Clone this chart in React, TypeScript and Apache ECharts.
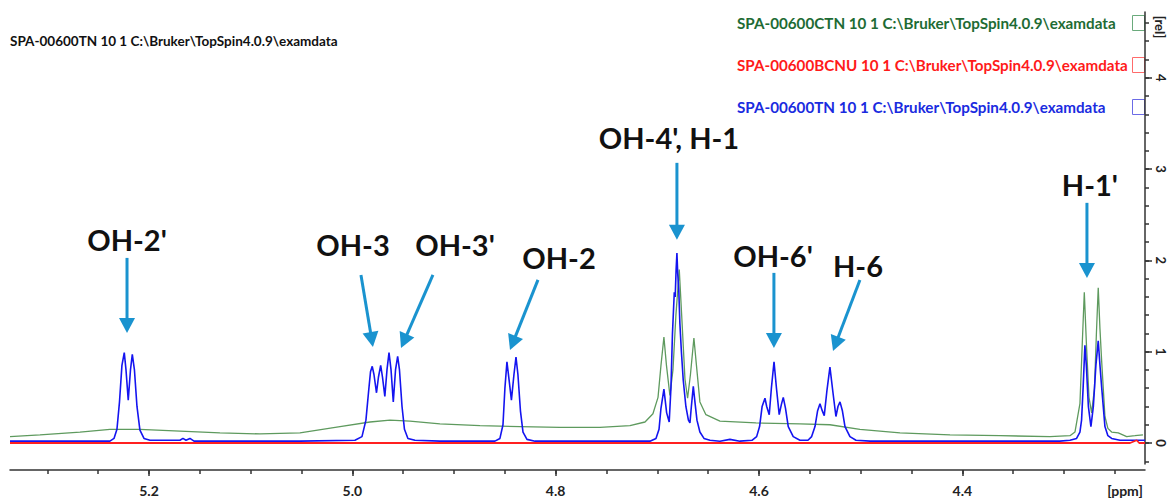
import React, { useEffect, useRef } from "react";
import * as echarts from "echarts";

// ---- data (ppm, relative intensity) ----
const blueTN: [number, number][] = [
  [5.3367, 0.02], [5.2384, 0.02], [5.2344, 0.05], [5.2315, 0.15], [5.229, 0.45], [5.2266, 0.85],
  [5.2243, 0.99], [5.2226, 0.8], [5.2204, 0.47], [5.2182, 0.8], [5.2164, 0.97], [5.2143, 0.8],
  [5.2118, 0.4], [5.2089, 0.14], [5.2049, 0.05], [5.199, 0.03], [5.1695, 0.03], [5.1666, 0.05],
  [5.1636, 0.03], [5.1597, 0.05], [5.1557, 0.02], [5.0515, 0.02], [4.9974, 0.03], [4.9905, 0.07],
  [4.9866, 0.25], [4.9841, 0.55], [4.9821, 0.78], [4.9804, 0.84], [4.9787, 0.75], [4.9762, 0.55],
  [4.9743, 0.72], [4.9721, 0.85], [4.9703, 0.72], [4.968, 0.51], [4.9659, 0.8], [4.9639, 0.99],
  [4.9619, 0.8], [4.9597, 0.45], [4.9575, 0.8], [4.9554, 0.95], [4.9536, 0.8], [4.9511, 0.4],
  [4.9487, 0.15], [4.9453, 0.05], [4.9384, 0.03], [4.9138, 0.02], [4.8597, 0.02], [4.8548, 0.05],
  [4.8518, 0.2], [4.8499, 0.6], [4.8479, 0.89], [4.8459, 0.7], [4.8435, 0.47], [4.841, 0.75],
  [4.839, 0.94], [4.8371, 0.75], [4.8346, 0.35], [4.8321, 0.12], [4.8282, 0.04], [4.8203, 0.02],
  [4.7072, 0.02], [4.7013, 0.05], [4.6983, 0.15], [4.6964, 0.38], [4.6935, 0.59], [4.6908, 0.33],
  [4.6883, 0.23], [4.6866, 0.6], [4.6851, 1.2], [4.6833, 1.65], [4.6824, 1.6], [4.6815, 1.9],
  [4.6807, 2.08], [4.6799, 1.85], [4.6789, 1.68], [4.6778, 1.31], [4.6763, 1.0], [4.6745, 0.69],
  [4.6719, 0.4], [4.6694, 0.25], [4.6679, 0.22], [4.6665, 0.4], [4.6646, 0.62], [4.663, 0.45],
  [4.661, 0.25], [4.6581, 0.12], [4.6541, 0.05], [4.6482, 0.03], [4.6384, 0.02], [4.6286, 0.04],
  [4.6187, 0.02], [4.6069, 0.03], [4.6023, 0.07], [4.5994, 0.18], [4.5969, 0.4], [4.5941, 0.49],
  [4.5924, 0.4], [4.5899, 0.31], [4.5878, 0.6], [4.5852, 0.89], [4.5828, 0.6], [4.5801, 0.31],
  [4.578, 0.42], [4.5761, 0.5], [4.5739, 0.38], [4.5712, 0.18], [4.5663, 0.07], [4.5597, 0.03],
  [4.5518, 0.03], [4.5482, 0.07], [4.5449, 0.18], [4.5424, 0.35], [4.54, 0.43], [4.538, 0.36],
  [4.5358, 0.3], [4.5331, 0.58], [4.5302, 0.83], [4.5272, 0.55], [4.5243, 0.29], [4.5223, 0.4],
  [4.5203, 0.45], [4.5179, 0.35], [4.5154, 0.18], [4.5105, 0.07], [4.5046, 0.03], [4.4908, 0.02],
  [4.304, 0.02], [4.2941, 0.03], [4.2876, 0.05], [4.2843, 0.12], [4.2827, 0.25], [4.2811, 0.62],
  [4.2794, 1.07], [4.278, 0.85], [4.276, 0.4], [4.2735, 0.18], [4.2711, 0.4], [4.2686, 0.85],
  [4.2663, 1.12], [4.2646, 0.85], [4.263, 0.62], [4.2597, 0.18], [4.2568, 0.08], [4.2531, 0.05],
  [4.2449, 0.03], [4.2203, 0.03],
];

const greenCTN: [number, number][] = [
  [5.3367, 0.07], [5.3072, 0.09], [5.2679, 0.12], [5.2384, 0.15], [5.2089, 0.15], [5.1695, 0.13],
  [5.1302, 0.11], [5.0908, 0.1], [5.0515, 0.11], [5.0121, 0.18], [4.9826, 0.23], [4.963, 0.25],
  [4.9433, 0.24], [4.9138, 0.21], [4.8744, 0.19], [4.8351, 0.18], [4.7957, 0.17], [4.7564, 0.17],
  [4.7269, 0.19], [4.7121, 0.23], [4.7043, 0.32], [4.6993, 0.5], [4.6964, 0.85], [4.6935, 1.16],
  [4.691, 0.85], [4.6876, 0.52], [4.6846, 0.8], [4.6817, 1.4], [4.6784, 1.9], [4.6758, 1.35],
  [4.6728, 0.7], [4.6702, 0.49], [4.6674, 0.75], [4.664, 1.15], [4.6615, 0.85], [4.6581, 0.45],
  [4.6522, 0.31], [4.6384, 0.24], [4.603, 0.22], [4.5597, 0.21], [4.5302, 0.2], [4.5007, 0.15],
  [4.4613, 0.11], [4.4121, 0.09], [4.363, 0.08], [4.3138, 0.07], [4.2941, 0.08], [4.2892, 0.12],
  [4.2843, 0.43], [4.282, 1.09], [4.28, 1.65], [4.2778, 1.05], [4.2754, 0.5], [4.2728, 0.33],
  [4.27, 0.6], [4.2681, 1.2], [4.2663, 1.7], [4.2646, 1.25], [4.263, 0.91], [4.2597, 0.29],
  [4.2568, 0.16], [4.2531, 0.12], [4.2466, 0.11], [4.2383, 0.07], [4.2302, 0.08], [4.2223, 0.09],
];

const redBCNU: [number, number][] = [
  [5.3367, 0.0], [4.235, 0.0], [4.2285, 0.03], [4.226, 0.0], [4.2203, 0.0],
];

const xMajorTicks = [5.2, 5.0, 4.8, 4.6, 4.4];
const xMinorTicks = [5.3, 5.25, 5.2, 5.15, 5.1, 5.05, 5.0, 4.95, 4.9, 4.85, 4.8, 4.75, 4.7, 4.65, 4.6,
  4.55, 4.5, 4.45, 4.4, 4.35, 4.3, 4.25];
const yMajorTicks = [0, 1, 2, 3, 4];
const yMinorTicks = [-0.2, 0, 0.2, 0.4, 0.6, 0.8, 1, 1.2, 1.4, 1.6, 1.8, 2, 2.2, 2.4, 2.6, 2.8, 3, 3.2,
  3.4, 3.6, 3.8, 4, 4.2, 4.4, 4.6];

const seriesNames = [
  "SPA-00600CTN 10 1 C:\\Bruker\\TopSpin4.0.9\\examdata",
  "SPA-00600BCNU 10 1 C:\\Bruker\\TopSpin4.0.9\\examdata",
  "SPA-00600TN 10 1 C:\\Bruker\\TopSpin4.0.9\\examdata",
];
const titleText = "SPA-00600TN 10 1 C:\\Bruker\\TopSpin4.0.9\\examdata";

// annotations: label position and arrow (from -> tip), in data units
const annotLabels = ["OH-2'", "OH-3", "OH-3'", "OH-2", "OH-4', H-1", "OH-6'", "H-6", "H-1'"];
const annotLabelPos: [number, number][] = [
  [5.2216, 2.225], [4.9993, 2.17], [4.899, 2.17], [4.7967, 2.027], [4.6885, 3.342], [4.5862, 2.049],
  [4.5026, 1.94], [4.2745, 2.827],
];
const annotFrom: [number, number][] = [
  [5.2216, 2.027], [4.9915, 1.841], [4.9207, 1.841], [4.8174, 1.786], [4.6807, 3.068], [4.5853, 1.863],
  [4.5007, 1.786], [4.2774, 2.63],
];
const annotTo: [number, number][] = [
  [5.2216, 1.205], [4.9797, 1.052], [4.9521, 1.041], [4.8449, 1.019], [4.6807, 2.225], [4.5853, 1.041],
  [4.5272, 1.008], [4.2774, 1.808],
];

const X_MIN = 4.2203;
const X_MAX = 5.3367;
const Y_MIN = -0.23;
const Y_MAX = 4.72;

const FONT = "Lato";
const AXIS_COLOR = "#333";
const ARROW_COLOR = "#1A93CF";

export default function App() {
  const ref = useRef<HTMLDivElement>(null);
  useEffect(() => {
    if (!ref.current) return;
    const chart = echarts.init(ref.current, null, { renderer: "svg" });
    const option: any = {
      animation: false,
      backgroundColor: "#fff",
      grid: { left: 10, right: 24, top: 12, bottom: 35 },
      xAxis: [
        {
          type: "value", inverse: true, min: X_MIN, max: X_MAX, offset: 6, position: "bottom",
          axisLine: { show: true, onZero: false, lineStyle: { color: AXIS_COLOR, width: 1.5 } },
          axisTick: { show: true, length: 6, customValues: xMajorTicks, lineStyle: { color: AXIS_COLOR, width: 1.5 } },
          axisLabel: {
            customValues: xMajorTicks, margin: 13, color: "#222", fontFamily: FONT, fontWeight: "bold", fontSize: 14,
            formatter: (v: number) => v.toFixed(1),
          },
          splitLine: { show: false },
        },
        {
          type: "value", inverse: true, min: X_MIN, max: X_MAX, offset: 6, position: "bottom",
          axisLine: { show: false, onZero: false },
          axisTick: { show: true, length: 4, customValues: xMinorTicks, lineStyle: { color: AXIS_COLOR, width: 1.5 } },
          axisLabel: { show: false },
          splitLine: { show: false },
        },
      ],
      yAxis: [
        {
          type: "value", position: "right", min: Y_MIN, max: Y_MAX,
          axisLine: { show: true, onZero: false, lineStyle: { color: AXIS_COLOR, width: 1.5 } },
          axisTick: { show: true, length: 7, customValues: yMajorTicks, lineStyle: { color: AXIS_COLOR, width: 1.5 } },
          axisLabel: {
            customValues: yMajorTicks, margin: 9, rotate: -90, color: "#222", fontFamily: FONT, fontWeight: "bold", fontSize: 13,
          },
          splitLine: { show: false },
        },
        {
          type: "value", position: "right", min: Y_MIN, max: Y_MAX,
          axisLine: { show: false, onZero: false },
          axisTick: { show: true, length: 4, customValues: yMinorTicks, lineStyle: { color: AXIS_COLOR, width: 1.5 } },
          axisLabel: { show: false },
          splitLine: { show: false },
        },
      ],
      series: [
        {
          name: seriesNames[0], type: "line", data: greenCTN, showSymbol: false, xAxisIndex: 0, yAxisIndex: 0,
          lineStyle: { color: "#5E9A5E", width: 1.3 }, itemStyle: { color: "#5E9A5E" }, z: 2,
        },
        {
          name: seriesNames[2], type: "line", data: blueTN, showSymbol: false, xAxisIndex: 0, yAxisIndex: 0,
          lineStyle: { color: "#1414F0", width: 1.6 }, itemStyle: { color: "#1414F0" }, z: 3,
        },
        {
          name: seriesNames[1], type: "line", data: redBCNU, showSymbol: false, xAxisIndex: 0, yAxisIndex: 0,
          lineStyle: { color: "#FF2020", width: 1.8 }, itemStyle: { color: "#FF2020" }, z: 4,
        },
      ],
    };
    chart.setOption(option);

    const graphics: any[] = [];
    // title text
    graphics.push({
      type: "text", x: 10, y: 41,
      style: { text: titleText, fill: "#111", font: `bold 13.5px ${FONT}`, align: "left", verticalAlign: "middle" },
    });
    // legend
    const legendColors = ["#1E6B34", "#FF1A1A", "#1A2BE0"];
    const boxColors = ["#6AAA7C", "#FF6B6B", "#6B6BE6"];
    const legendY = [23, 65, 107];
    legendColors.forEach((c, i) => {
      graphics.push({
        type: "text", x: 737, y: legendY[i],
        style: { text: seriesNames[i], fill: c, font: `bold 15.2px ${FONT}`, align: "left", verticalAlign: "middle" },
      });
      graphics.push({
        type: "rect", shape: { x: 1132.5, y: legendY[i] - 7.5, width: 12, height: 15 },
        style: { fill: "none", stroke: boxColors[i], lineWidth: 1 },
      });
    });
    // axis names
    graphics.push({
      type: "text", x: 1125, y: 490,
      style: { text: "[ppm]", fill: "#222", font: `bold 14px ${FONT}`, align: "center", verticalAlign: "middle" },
    });
    graphics.push({
      type: "text", x: 1160, y: 27, rotation: -Math.PI / 2,
      style: { text: "[rel]", fill: "#222", font: `bold 13px ${FONT}`, align: "center", verticalAlign: "middle" },
    });
    // annotations
    annotLabels.forEach((label, i) => {
      const lp = chart.convertToPixel({ xAxisIndex: 0, yAxisIndex: 0 }, annotLabelPos[i]) as number[];
      const a = chart.convertToPixel({ xAxisIndex: 0, yAxisIndex: 0 }, annotFrom[i]) as number[];
      const b = chart.convertToPixel({ xAxisIndex: 0, yAxisIndex: 0 }, annotTo[i]) as number[];
      const dx = b[0] - a[0];
      const dy = b[1] - a[1];
      const len = Math.sqrt(dx * dx + dy * dy);
      const ux = dx / len;
      const uy = dy / len;
      const headLen = 15;
      const halfW = 8;
      const bx = b[0] - ux * headLen;
      const by = b[1] - uy * headLen;
      graphics.push({
        type: "text", x: lp[0], y: lp[1],
        style: { text: label, fill: "#111", font: `bold 29px ${FONT}`, align: "center", verticalAlign: "middle" },
      });
      graphics.push({
        type: "line", shape: { x1: a[0], y1: a[1], x2: bx + ux * 2, y2: by + uy * 2 },
        style: { stroke: ARROW_COLOR, lineWidth: 3 },
      });
      graphics.push({
        type: "polygon",
        shape: { points: [[b[0], b[1]], [bx - uy * halfW, by + ux * halfW], [bx + uy * halfW, by - ux * halfW]] },
        style: { fill: ARROW_COLOR },
      });
    });
    chart.setOption({ graphic: graphics });
    return () => chart.dispose();
  }, []);
  return <div ref={ref} style={{ width: 1169, height: 499, position: "absolute", left: 0, top: 0 }} />;
}
